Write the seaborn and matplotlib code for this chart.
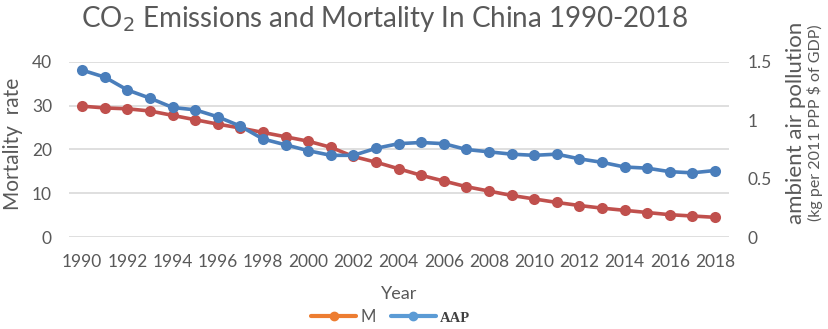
import numpy as np
import pandas as pd
import matplotlib
matplotlib.use("Agg")
import matplotlib.pyplot as plt
import seaborn as sns
from matplotlib.lines import Line2D

sns.set_theme(style="white")
plt.rcParams['font.family'] = ['Lato', 'DejaVu Sans']

years = list(range(1990, 2019))
mortality = [29.9, 29.5, 29.3, 28.8, 27.8, 26.8, 25.8, 24.9, 23.9, 22.9,
             21.9, 20.5, 18.4, 17.1, 15.6, 14.1, 12.8, 11.5, 10.5, 9.5,
             8.7, 7.9, 7.2, 6.6, 6.1, 5.6, 5.1, 4.8, 4.5]
aap = [1.43, 1.37, 1.26, 1.19, 1.11, 1.09, 1.03, 0.95, 0.84, 0.79,
       0.74, 0.70, 0.70, 0.76, 0.80, 0.81, 0.80, 0.75, 0.73, 0.71,
       0.70, 0.71, 0.67, 0.64, 0.60, 0.59, 0.56, 0.55, 0.57]

gray = "#595959"
red = "#C0504D"
blue = "#4A7EBB"

df = pd.DataFrame({"Year": years, "M": mortality, "AAP": aap})

fig = plt.figure(figsize=(8.29, 3.29), dpi=100)
ax = fig.add_axes([0.0828, 0.2796, 0.796, 0.532])
ax2 = ax.twinx()

sns.lineplot(data=df, x="Year", y="M", ax=ax, color=red, marker="o",
             markersize=8, linewidth=2.6, markeredgewidth=0)
sns.lineplot(data=df, x="Year", y="AAP", ax=ax2, color=blue, marker="o",
             markersize=8, linewidth=2.6, markeredgewidth=0)

ax.set_xlim(1989.4, 2018.6)
ax.set_ylim(0, 40)
ax2.set_ylim(0, 1.5)
ax.set_xticks(years[::2])
ax.set_yticks([0, 10, 20, 30, 40])
ax2.set_yticks([0, 0.5, 1, 1.5])
ax2.set_yticklabels(["0", "0.5", "1", "1.5"])

ax.yaxis.grid(True, color="#D9D9D9", linewidth=1.2)
ax.xaxis.grid(False)
ax2.grid(False)
for a in (ax, ax2):
    for s in a.spines.values():
        s.set_visible(False)
    a.tick_params(axis="both", length=0, labelsize=12.5, colors=gray)
ax.tick_params(axis="y", pad=12)
ax.tick_params(axis="x", pad=12)
ax2.tick_params(axis="y", pad=14)

ax.set_xlabel("")
ax.set_ylabel("")
ax2.set_ylabel("")

fig.text(0.464, 1 - 27 / 329, "CO$_2$ Emissions and Mortality In China 1990-2018",
         ha="center", va="baseline", fontsize=20, color=gray)
fig.text(0.016, 0.562, "Mortality  rate", rotation=90, ha="center", va="center",
         fontsize=15, color=gray)
fig.text(0.960, 0.626, "ambient air pollution", rotation=90, ha="center",
         va="center", fontsize=16, color=gray)
fig.text(0.983, 0.626, "(kg per 2011 PPP $ of GDP)", rotation=90, ha="center",
         va="center", fontsize=11.5, color=gray)
fig.text(0.482, 0.107, "Year", ha="center", va="center", fontsize=13, color=gray)

handles = [Line2D([], [], color="#ED7D31", marker="o", markersize=6, linewidth=3),
           Line2D([], [], color="#5B9BD5", marker="o", markersize=6, linewidth=3)]
leg = fig.legend(handles, ["M", "AAP"], loc="center", bbox_to_anchor=(0.471, 0.036),
                 ncol=2, frameon=False, fontsize=12, handlelength=2.7,
                 handletextpad=0.25, columnspacing=0.9)
txt_m, txt_aap = leg.get_texts()
txt_m.set_color(gray)
txt_aap.set_family("Liberation Serif")
txt_aap.set_fontweight("bold")
txt_aap.set_fontsize(10.5)
txt_aap.set_color("#404040")

fig.savefig("out.png", dpi=100)
